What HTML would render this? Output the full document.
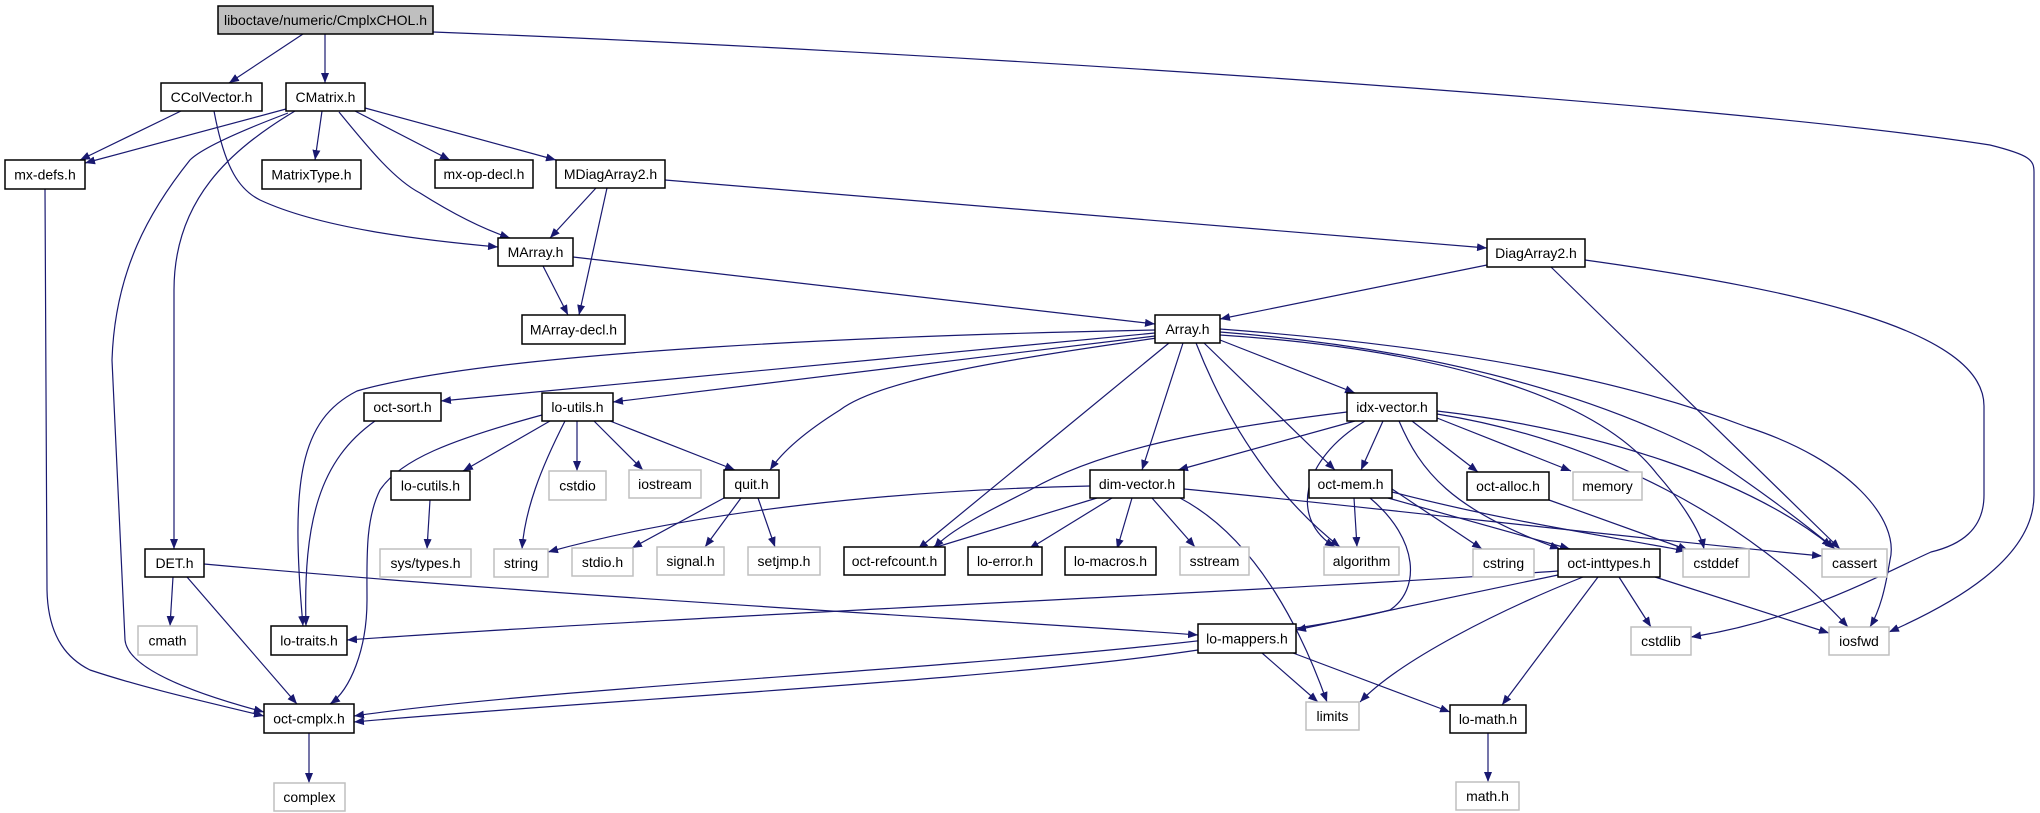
<!DOCTYPE html>
<html><head><meta charset="utf-8"><style>
html,body{margin:0;padding:0;background:#fff;}
svg{display:block;}
text{font-family:"Liberation Sans",sans-serif;font-size:14px;fill:#000;text-anchor:middle;dominant-baseline:central;}
.e{fill:none;stroke:#191970;stroke-width:1.2;marker-end:url(#a);}
.b{fill:#fff;stroke:#000;stroke-width:1.5;}
.g{fill:#fff;stroke:#bfbfbf;stroke-width:1.5;}
</style></head><body>
<svg width="2040" height="813" viewBox="0 0 2040 813" xmlns="http://www.w3.org/2000/svg">
<defs><marker id="a" markerWidth="10" markerHeight="8" refX="10" refY="4" orient="auto" markerUnits="userSpaceOnUse"><path d="M0,0 L10,4 L0,8 z" fill="#191970"/></marker></defs>
<g>
<path class="e" d="M303,34 L229,83"/>
<path class="e" d="M325,34 L325,83"/>
<path class="e" d="M433,32 C900,50 1700,100 1990,145 C2030,155 2034,160 2034,172 L2034,495 C2034,560 1950,605 1889,632"/>
<path class="e" d="M181,111 L80,160"/>
<path class="e" d="M214,111 C225,170 240,190 260,200 C320,228 420,240 498,247"/>
<path class="e" d="M286,109 L85,163"/>
<path class="e" d="M295,111 C230,150 174,200 174,290 L174,549"/>
<path class="e" d="M288,113 C230,135 200,150 190,160 C150,210 115,270 112,360 L125,640 C128,670 200,695 264,712"/>
<path class="e" d="M45,189 L47,590 C48,640 70,660 90,670 C150,690 220,705 264,716"/>
<path class="e" d="M322,111 L315,160"/>
<path class="e" d="M339,112 C370,150 395,180 420,193 C450,212 480,228 510,238"/>
<path class="e" d="M355,111 L450,160"/>
<path class="e" d="M365,108 L556,160"/>
<path class="e" d="M596,188 L550,238"/>
<path class="e" d="M607,188 L579,315"/>
<path class="e" d="M665,180 L1487,248"/>
<path class="e" d="M543,266 L568,315"/>
<path class="e" d="M573,257 L1155,324"/>
<path class="e" d="M1487,265 L1220,319"/>
<path class="e" d="M1551,267 L1840,549"/>
<path class="e" d="M1585,260 C1800,290 1984,330 1984,406 L1984,495 C1984,530 1960,545 1931,552 C1880,575 1800,620 1691,637"/>
<path class="e" d="M1155,330 C900,335 500,350 357,391 C300,420 290,480 303,626"/>
<path class="e" d="M1155,333 L441,401"/>
<path class="e" d="M1155,336 L613,402"/>
<path class="e" d="M1157,338 C1000,360 880,380 840,410 C800,435 780,455 770,470"/>
<path class="e" d="M1169,343 L918,549"/>
<path class="e" d="M1183,343 L1142,470"/>
<path class="e" d="M1196,343 C1230,430 1280,500 1340,547"/>
<path class="e" d="M1204,343 L1335,470"/>
<path class="e" d="M1220,340 L1355,393"/>
<path class="e" d="M1220,335 C1450,350 1600,400 1657,474 C1680,500 1700,530 1704,549"/>
<path class="e" d="M1220,332 C1450,350 1600,400 1700,450 C1760,490 1800,520 1835,549"/>
<path class="e" d="M1220,329 C1500,350 1650,390 1747,427 C1850,460 1900,520 1890,560 C1885,590 1880,610 1870,627"/>
<path class="e" d="M375,421 C320,460 303,520 306,626"/>
<path class="e" d="M542,415 C450,440 400,460 380,490 C365,520 367,560 367,600 C367,650 350,690 330,704"/>
<path class="e" d="M550,421 L463,471"/>
<path class="e" d="M565,421 C540,470 525,510 522,549"/>
<path class="e" d="M577,421 L577,471"/>
<path class="e" d="M594,421 L643,470"/>
<path class="e" d="M610,421 L735,470"/>
<path class="e" d="M430,500 L427,549"/>
<path class="e" d="M724,498 L632,548"/>
<path class="e" d="M741,498 L705,547"/>
<path class="e" d="M758,498 L775,547"/>
<path class="e" d="M173,577 L170,626"/>
<path class="e" d="M187,577 L297,704"/>
<path class="e" d="M204,564 C600,600 1000,620 1198,635"/>
<path class="e" d="M1347,412 C1200,430 1100,450 1030,490 C990,510 950,530 934,548"/>
<path class="e" d="M1355,421 L1178,470"/>
<path class="e" d="M1365,421 C1300,460 1290,520 1335,547"/>
<path class="e" d="M1383,421 L1361,470"/>
<path class="e" d="M1399,421 C1420,470 1450,510 1560,549"/>
<path class="e" d="M1412,421 L1478,472"/>
<path class="e" d="M1437,418 L1571,471"/>
<path class="e" d="M1437,411 C1600,430 1750,480 1832,547"/>
<path class="e" d="M1437,414 C1600,440 1750,520 1848,627"/>
<path class="e" d="M1090,486 C900,490 700,510 548,552"/>
<path class="e" d="M1097,498 L930,549"/>
<path class="e" d="M1112,498 L1029,549"/>
<path class="e" d="M1132,498 L1117,549"/>
<path class="e" d="M1152,498 L1195,547"/>
<path class="e" d="M1180,498 C1260,540 1305,640 1327,702"/>
<path class="e" d="M1184,489 C1400,510 1600,535 1822,556"/>
<path class="e" d="M1354,498 L1357,547"/>
<path class="e" d="M1392,489 L1482,549"/>
<path class="e" d="M1388,498 L1570,549"/>
<path class="e" d="M1392,492 C1500,520 1600,535 1686,551"/>
<path class="e" d="M1370,498 C1420,540 1420,590 1390,610 C1200,660 600,680 354,716"/>
<path class="e" d="M1549,500 L1688,550"/>
<path class="e" d="M1558,571 C1300,590 700,615 347,640"/>
<path class="e" d="M1558,575 L1296,630"/>
<path class="e" d="M1583,577 C1500,610 1400,660 1360,702"/>
<path class="e" d="M1598,577 L1502,705"/>
<path class="e" d="M1619,577 L1651,627"/>
<path class="e" d="M1655,577 L1829,633"/>
<path class="e" d="M1262,653 L1318,702"/>
<path class="e" d="M1293,653 L1450,712"/>
<path class="e" d="M1198,650 C1000,680 600,700 354,722"/>
<path class="e" d="M1488,733 L1488,782"/>
<path class="e" d="M309,733 L309,783"/>
</g>
<g>
<rect x="218" y="6" width="215" height="28" fill="#bfbfbf" stroke="#000" stroke-width="1.5"/><text x="325.5" y="20">liboctave/numeric/CmplxCHOL.h</text>
<rect class="b" x="161" y="83" width="101" height="28"/><text x="211.5" y="97">CColVector.h</text>
<rect class="b" x="286" y="83" width="79" height="28"/><text x="325.5" y="97">CMatrix.h</text>
<rect class="b" x="5" y="160" width="80" height="29"/><text x="45" y="174.5">mx-defs.h</text>
<rect class="b" x="262" y="160" width="99" height="29"/><text x="311.5" y="174.5">MatrixType.h</text>
<rect class="b" x="435" y="160" width="98" height="28"/><text x="484" y="174">mx-op-decl.h</text>
<rect class="b" x="556" y="160" width="109" height="28"/><text x="610.5" y="174">MDiagArray2.h</text>
<rect class="b" x="498" y="238" width="75" height="28"/><text x="535.5" y="252">MArray.h</text>
<rect class="b" x="1487" y="239" width="98" height="28"/><text x="1536" y="253">DiagArray2.h</text>
<rect class="b" x="522" y="315" width="103" height="29"/><text x="573.5" y="329.5">MArray-decl.h</text>
<rect class="b" x="1155" y="315" width="65" height="28"/><text x="1187.5" y="329">Array.h</text>
<rect class="b" x="364" y="393" width="77" height="28"/><text x="402.5" y="407">oct-sort.h</text>
<rect class="b" x="542" y="393" width="71" height="28"/><text x="577.5" y="407">lo-utils.h</text>
<rect class="b" x="1347" y="393" width="90" height="28"/><text x="1392" y="407">idx-vector.h</text>
<rect class="b" x="391" y="471" width="79" height="29"/><text x="430.5" y="485.5">lo-cutils.h</text>
<rect class="g" x="549" y="471" width="57" height="29"/><text x="577.5" y="485.5">cstdio</text>
<rect class="g" x="629" y="470" width="72" height="28"/><text x="665" y="484">iostream</text>
<rect class="b" x="724" y="470" width="55" height="28"/><text x="751.5" y="484">quit.h</text>
<rect class="b" x="1090" y="470" width="94" height="28"/><text x="1137" y="484">dim-vector.h</text>
<rect class="b" x="1309" y="470" width="83" height="28"/><text x="1350.5" y="484">oct-mem.h</text>
<rect class="b" x="1467" y="472" width="82" height="28"/><text x="1508" y="486">oct-alloc.h</text>
<rect class="g" x="1573" y="472" width="69" height="28"/><text x="1607.5" y="486">memory</text>
<rect class="b" x="145" y="549" width="59" height="28"/><text x="174.5" y="563">DET.h</text>
<rect class="g" x="380" y="549" width="91" height="28"/><text x="425.5" y="563">sys/types.h</text>
<rect class="g" x="494" y="549" width="54" height="28"/><text x="521" y="563">string</text>
<rect class="g" x="572" y="548" width="61" height="28"/><text x="602.5" y="562">stdio.h</text>
<rect class="g" x="657" y="547" width="67" height="28"/><text x="690.5" y="561">signal.h</text>
<rect class="g" x="748" y="547" width="72" height="28"/><text x="784" y="561">setjmp.h</text>
<rect class="b" x="844" y="547" width="101" height="28"/><text x="894.5" y="561">oct-refcount.h</text>
<rect class="b" x="968" y="547" width="74" height="28"/><text x="1005" y="561">lo-error.h</text>
<rect class="b" x="1065" y="547" width="91" height="28"/><text x="1110.5" y="561">lo-macros.h</text>
<rect class="g" x="1180" y="547" width="69" height="28"/><text x="1214.5" y="561">sstream</text>
<rect class="g" x="1324" y="547" width="75" height="28"/><text x="1361.5" y="561">algorithm</text>
<rect class="g" x="1473" y="549" width="61" height="28"/><text x="1503.5" y="563">cstring</text>
<rect class="b" x="1558" y="549" width="102" height="28"/><text x="1609" y="563">oct-inttypes.h</text>
<rect class="g" x="1683" y="549" width="66" height="28"/><text x="1716" y="563">cstddef</text>
<rect class="g" x="1822" y="549" width="65" height="28"/><text x="1854.5" y="563">cassert</text>
<rect class="g" x="138" y="626" width="59" height="29"/><text x="167.5" y="640.5">cmath</text>
<rect class="b" x="271" y="626" width="76" height="29"/><text x="309" y="640.5">lo-traits.h</text>
<rect class="b" x="1198" y="624" width="98" height="29"/><text x="1247" y="638.5">lo-mappers.h</text>
<rect class="g" x="1631" y="627" width="60" height="28"/><text x="1661" y="641">cstdlib</text>
<rect class="g" x="1829" y="627" width="60" height="28"/><text x="1859" y="641">iosfwd</text>
<rect class="b" x="264" y="704" width="90" height="29"/><text x="309" y="718.5">oct-cmplx.h</text>
<rect class="g" x="1306" y="702" width="53" height="28"/><text x="1332.5" y="716">limits</text>
<rect class="b" x="1450" y="705" width="76" height="28"/><text x="1488" y="719">lo-math.h</text>
<rect class="g" x="274" y="783" width="71" height="28"/><text x="309.5" y="797">complex</text>
<rect class="g" x="1456" y="782" width="63" height="28"/><text x="1487.5" y="796">math.h</text>
</g>
</svg>
</body></html>
